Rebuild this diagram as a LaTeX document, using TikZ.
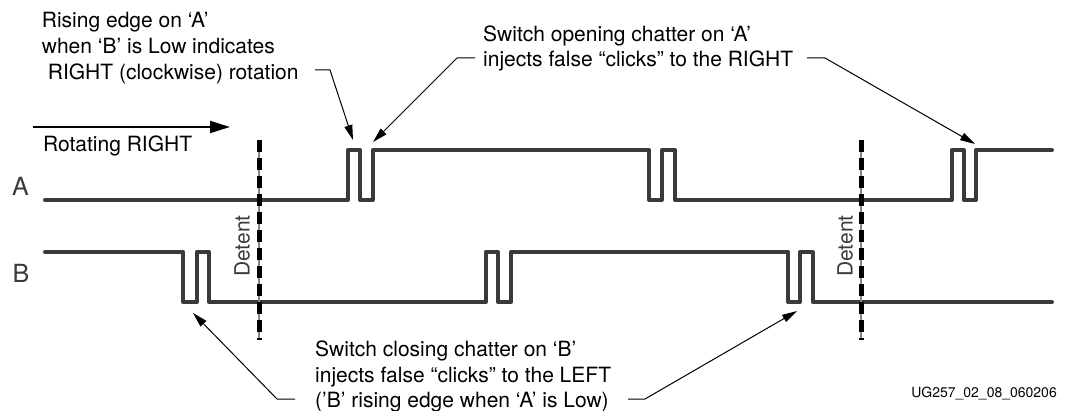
\documentclass[tikz,border=0pt]{standalone}
\usepackage{fontspec}
\setmainfont{TeX Gyre Heros}
\usetikzlibrary{arrows.meta}
\definecolor{sig}{RGB}{58,58,60}
\definecolor{detgray}{RGB}{135,135,135}
\begin{document}
\begin{tikzpicture}[x=1pt,y=-1pt,
  signal/.style={draw=sig,line width=4pt,line cap=round,line join=round},
  lbl/.style={inner sep=0pt,anchor=base west,font=\fontsize{21}{25}\selectfont},
  siglbl/.style={inner sep=0pt,anchor=base west,text=sig,font=\fontsize{25}{30}\selectfont},
  leader/.style={draw=black,line width=1pt,-{Triangle[length=15pt,width=8pt]}},
  detline/.style={draw=detgray,line width=1.4pt},
  detdash/.style={draw=black,line width=5pt,dash pattern=on 12pt off 6pt},
  dettext/.style={inner sep=0pt,rotate=90,text=sig,font=\fontsize{21}{25}\selectfont},
]
\useasboundingbox (0,0) rectangle (1065,411);

% signal A
\draw[signal] (45,200) -- (347.7,200) -- (347.7,150) -- (360,150) -- (360,200) -- (372.7,200) -- (372.7,150)
  -- (649,150) -- (649,200) -- (661.7,200) -- (661.7,150) -- (675,150) -- (675,200)
  -- (951.7,200) -- (951.7,150) -- (963.5,150) -- (963.5,200) -- (976,200) -- (976,150) -- (1052,150);
% signal B
\draw[signal] (45,252) -- (183.3,252) -- (183.3,302) -- (196.7,302) -- (196.7,252) -- (209,252) -- (209,302)
  -- (485.7,302) -- (485.7,252) -- (498,252) -- (498,302) -- (511,302) -- (511,252)
  -- (788,252) -- (788,302) -- (800,302) -- (800,252) -- (812.7,252) -- (812.7,302) -- (1052,302);

% detent lines
\coordinate (d1t) at (259,140); \coordinate (d1b) at (259,340);
\coordinate (d2t) at (861,140); \coordinate (d2b) at (861,340);
\draw[detline] (d1t) -- (d1b);
\draw[detdash] (d1t) -- (d1b);
\draw[detline] (d2t) -- (d2b);
\draw[detdash] (d2t) -- (d2b);
\node[dettext] (det1) at (242,246) {Detent};
\node[dettext] (det2) at (845,246) {Detent};

% signal labels
\node[siglbl] (labA) at (12,196) {A};
\node[siglbl] (labB) at (12.5,283) {B};

% rotating right
\coordinate (rs) at (33,127); \coordinate (re) at (230,127);
\draw[line width=2pt,-{Triangle[length=20pt,width=12pt]}] (rs) -- (re);
\node[lbl] (rot) at (43,152) {Rotating RIGHT};

% top-left annotation
\node[lbl] (tl1) at (41.7,28) {Rising edge on ‘A’};
\node[lbl] (tl2) at (41.7,54) {when ‘B’ is Low indicates};
\node[lbl] (tl3) at (47.7,80) {RIGHT (clockwise) rotation};
\coordinate (tlA) at (315,70); \coordinate (tlB) at (330,70); \coordinate (tlT) at (353,140);
\draw[leader] (tlA) -- (tlB) -- (tlT);

% top-right annotation
\node[lbl] (tr1) at (483,42) {Switch opening chatter on ‘A’};
\node[lbl] (tr2) at (483,67) {injects false “clicks” to the RIGHT};
\coordinate (trLA) at (475,58); \coordinate (trLB) at (457,58); \coordinate (trLT) at (373,142);
\draw[leader] (trLA) -- (trLB) -- (trLT);
\coordinate (trRA) at (807,58); \coordinate (trRB) at (825,58); \coordinate (trRT) at (975,144);
\draw[leader] (trRA) -- (trRB) -- (trRT);

% bottom annotation
\node[lbl] (b1) at (315,356) {Switch closing chatter on ‘B’};
\node[lbl] (b2) at (315,382) {injects false “clicks” to the LEFT};
\node[lbl] (b3) at (315,407) {(’B’ rising edge when ‘A’ is Low)};
\coordinate (bLA) at (295,399); \coordinate (bLB) at (277,399); \coordinate (bLT) at (193,313);
\draw[leader] (bLA) -- (bLB) -- (bLT);
\coordinate (bRA) at (628,399); \coordinate (bRB) at (645,399); \coordinate (bRT) at (797,311);
\draw[leader] (bRA) -- (bRB) -- (bRT);

% figure id
\node[inner sep=0pt,anchor=base east,font=\fontsize{14}{16}\selectfont] (fid) at (1057,397) {UG257\_02\_08\_060206};
\end{tikzpicture}
\end{document}
